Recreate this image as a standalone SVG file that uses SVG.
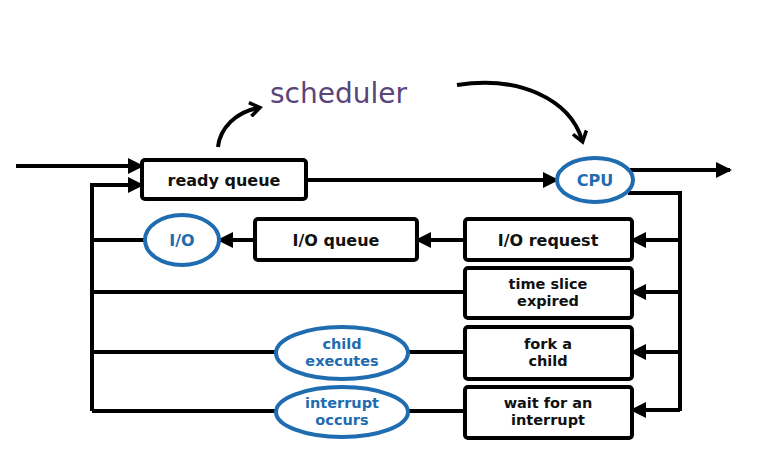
<svg xmlns="http://www.w3.org/2000/svg" width="765" height="452" viewBox="0 0 765 452">
<style>
.box{fill:#fff;stroke:#000;stroke-width:4;}
.ell{fill:#fff;stroke:#1f6cb0;stroke-width:4;}
.ln{fill:none;stroke:#000;stroke-width:4;}
.t{font-family:"DejaVu Sans","Liberation Sans",sans-serif;font-weight:bold;font-size:16px;text-anchor:middle;fill:#111;}
.t2{font-family:"DejaVu Sans","Liberation Sans",sans-serif;font-weight:bold;font-size:14.5px;text-anchor:middle;fill:#111;}
.tb{font-family:"DejaVu Sans","Liberation Sans",sans-serif;font-weight:bold;font-size:16px;text-anchor:middle;fill:#1f6cb0;}
.tb2{font-family:"DejaVu Sans","Liberation Sans",sans-serif;font-weight:bold;font-size:14.5px;text-anchor:middle;fill:#1f6cb0;}
.hand{font-family:"DejaVu Sans",sans-serif;font-size:28px;fill:#5b4479;}
</style>
<defs>
<marker id="ah" markerUnits="userSpaceOnUse" markerWidth="16" markerHeight="16" refX="14" refY="8" orient="auto">
<path d="M0,0 L16,8 L0,16 Z" fill="#000"/>
</marker>
<marker id="ah2" markerUnits="userSpaceOnUse" markerWidth="16" markerHeight="16" refX="10" refY="8" orient="auto">
<path d="M2,1 L12,8 L2,15" fill="none" stroke="#000" stroke-width="3.5"/>
</marker>
</defs>
<rect width="765" height="452" fill="#fff"/>
<g id="connectors">
<line class="ln" x1="16" y1="166" x2="142" y2="166" marker-end="url(#ah)"/>
<polyline class="ln" points="92,411 92,185 142,185" marker-end="url(#ah)"/>
<line class="ln" x1="306" y1="180" x2="557" y2="180" marker-end="url(#ah)"/>
<line class="ln" x1="630" y1="170" x2="730" y2="170" marker-end="url(#ah)"/>
<polyline class="ln" points="628,193 680,193 680,411"/>
<line class="ln" x1="680" y1="240" x2="632" y2="240" marker-end="url(#ah)"/>
<line class="ln" x1="680" y1="292" x2="632" y2="292" marker-end="url(#ah)"/>
<line class="ln" x1="680" y1="352" x2="632" y2="352" marker-end="url(#ah)"/>
<line class="ln" x1="680" y1="410" x2="632" y2="410" marker-end="url(#ah)"/>
<line class="ln" x1="465" y1="240" x2="417" y2="240" marker-end="url(#ah)"/>
<line class="ln" x1="255" y1="240" x2="219" y2="240" marker-end="url(#ah)"/>
<line class="ln" x1="145" y1="240" x2="92" y2="240"/>
<line class="ln" x1="465" y1="292" x2="92" y2="292"/>
<line class="ln" x1="465" y1="352" x2="408" y2="352"/>
<line class="ln" x1="276" y1="352" x2="92" y2="352"/>
<line class="ln" x1="465" y1="411" x2="408" y2="411"/>
<line class="ln" x1="276" y1="411" x2="92" y2="411"/>
<path class="ln" d="M218,147 C220,128 236,112 258,108" stroke-width="3.5" marker-end="url(#ah2)"/>
<path class="ln" d="M457,85 C520,75 570,100 582,140" stroke-width="3.5" marker-end="url(#ah2)"/>
</g>
<text class="hand" x="270" y="103">scheduler</text>
<g id="ready-queue"><rect class="box" x="142" y="160" width="164" height="39" rx="3"/><text class="t" x="224" y="186">ready queue</text></g>
<g id="cpu"><ellipse class="ell" cx="595" cy="180" rx="38" ry="22"/><text class="tb" x="595" y="186">CPU</text></g>
<g id="io-request"><rect class="box" x="465" y="219" width="167" height="41" rx="3"/><text class="t" x="548" y="246">I/O request</text></g>
<g id="io-queue"><rect class="box" x="255" y="219" width="162" height="41" rx="3"/><text class="t" x="336" y="246">I/O queue</text></g>
<g id="io"><ellipse class="ell" cx="182" cy="240" rx="37" ry="25"/><text class="tb" x="182" y="246">I/O</text></g>
<g id="time-slice"><rect class="box" x="465" y="268" width="167" height="50" rx="3"/><text class="t2" x="548" y="289">time slice</text><text class="t2" x="548" y="306">expired</text></g>
<g id="fork"><rect class="box" x="465" y="327" width="167" height="52" rx="3"/><text class="t2" x="548" y="349">fork a</text><text class="t2" x="548" y="366">child</text></g>
<g id="wait"><rect class="box" x="465" y="387" width="167" height="51" rx="3"/><text class="t2" x="548" y="408">wait for an</text><text class="t2" x="548" y="425">interrupt</text></g>
<g id="child-executes"><ellipse class="ell" cx="342" cy="353" rx="66" ry="26"/><text class="tb2" x="342" y="349">child</text><text class="tb2" x="342" y="366">executes</text></g>
<g id="interrupt-occurs"><ellipse class="ell" cx="342" cy="412" rx="66" ry="25"/><text class="tb2" x="342" y="408">interrupt</text><text class="tb2" x="342" y="425">occurs</text></g>
</svg>
